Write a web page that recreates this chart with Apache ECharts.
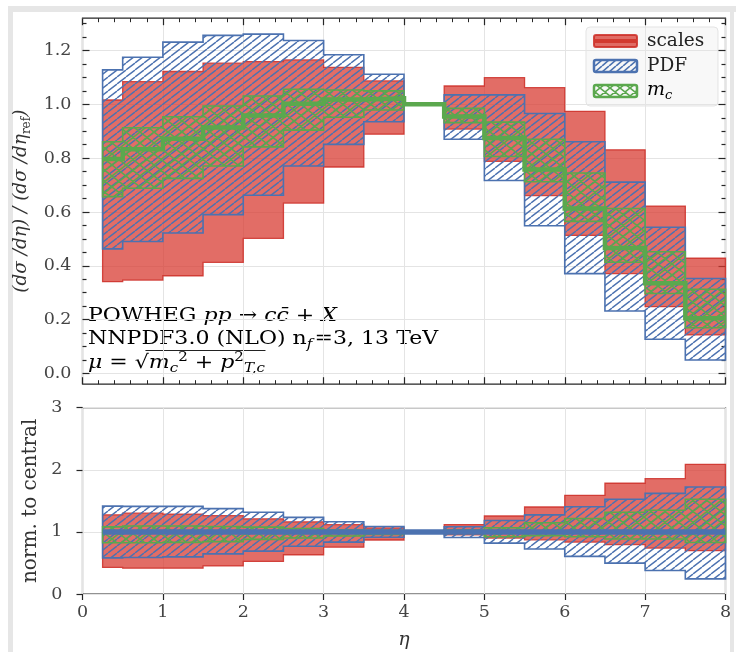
<!DOCTYPE html>
<html>
<head>
<meta charset="utf-8">
<script src="https://cdn.jsdelivr.net/npm/echarts@6/dist/echarts.min.js"></script>
<style>
html,body{margin:0;padding:0;background:#ffffff;}
#chart{width:736px;height:652px;}
</style>
</head>
<body>
<div id="chart"></div>
<script>
// ---------------- data ----------------
const binEdges = [0.25, 0.5, 1.0, 1.5, 2.0, 2.5, 3.0, 3.5, 4.0, 4.5, 5.0, 5.5, 6.0, 6.5, 7.0, 7.5, 8.0];
const centralXsec = [0.797, 0.833, 0.872, 0.914, 0.958, 1.002, 1.018, 1.022, 1.000, 0.955, 0.875, 0.758, 0.613, 0.466, 0.335, 0.205];
const scalesLow  = [0.341, 0.347, 0.363, 0.413, 0.502, 0.633, 0.767, 0.889, 1.000, 0.908, 0.788, 0.661, 0.513, 0.371, 0.248, 0.143];
const scalesHigh = [1.016, 1.084, 1.122, 1.153, 1.159, 1.165, 1.137, 1.087, 1.000, 1.068, 1.099, 1.062, 0.974, 0.831, 0.622, 0.428];
const pdfLow  = [0.463, 0.490, 0.522, 0.590, 0.662, 0.771, 0.851, 0.935, 1.000, 0.870, 0.717, 0.549, 0.371, 0.232, 0.127, 0.050];
const pdfHigh = [1.128, 1.175, 1.231, 1.256, 1.261, 1.237, 1.184, 1.112, 1.000, 1.035, 1.035, 0.966, 0.861, 0.711, 0.543, 0.353];
const mcLow  = [0.657, 0.688, 0.725, 0.771, 0.842, 0.904, 0.952, 0.979, 1.000, 0.932, 0.806, 0.712, 0.565, 0.413, 0.297, 0.170];
const mcHigh = [0.861, 0.913, 0.954, 0.994, 1.031, 1.056, 1.053, 1.050, 1.000, 0.985, 0.934, 0.870, 0.745, 0.613, 0.452, 0.313];
const yTicksTop = [0.0, 0.2, 0.4, 0.6, 0.8, 1.0, 1.2];
const yMinorTop = [0.05, 0.10, 0.15, 0.25, 0.30, 0.35, 0.45, 0.50, 0.55, 0.65, 0.70, 0.75, 0.85, 0.90, 0.95, 1.05, 1.10, 1.15, 1.25, 1.30];
const yTicksBottom = [0, 1, 2, 3];
const legendNames = ['scales', 'PDF', 'm', 'c'];

// ---------------- styles ----------------
const SERIF = 'DejaVu Serif';
const INK = '#262626';
const LABEL = '#444444';
const GRIDC = '#e4e4e4';
const RED_FILL = 'rgba(216,58,48,0.74)';
const RED_EDGE = 'rgba(205,45,38,0.85)';
const BLUE = '#4c72b0';
const GREEN = '#5ba84e';

function makeHatch(color, w, h, lw, cross) {
  const c = document.createElement('canvas');
  c.width = w; c.height = h;
  const g = c.getContext('2d');
  g.strokeStyle = color; g.lineWidth = lw;
  g.beginPath();
  [-w, 0, w].forEach(function (o) {
    g.moveTo(o, h); g.lineTo(o + w, 0);
    if (cross) { g.moveTo(o, 0); g.lineTo(o + w, h); }
  });
  g.stroke();
  return c;
}
const blueHatch = { image: makeHatch(BLUE, 9, 7, 1.4, false), repeat: 'repeat' };
const greenHatch = { image: makeHatch(GREEN, 14, 11, 1.5, true), repeat: 'repeat' };
const blueHatchLeg = { image: makeHatch(BLUE, 7, 6, 1.6, false), repeat: 'repeat' };
const greenHatchLeg = { image: makeHatch(GREEN, 10, 8, 1.6, true), repeat: 'repeat' };

function toRatio(arr) { return arr.map(function (v, i) { return v / centralXsec[i]; }); }
const ones = centralXsec.map(function () { return 1; });

function bandSeries(name, lo, hi, xi, yi, fill, stroke, lw) {
  return {
    type: 'custom', name: name, coordinateSystem: 'cartesian2d',
    xAxisIndex: xi, yAxisIndex: yi, silent: true,
    data: [[binEdges[0], lo[0]]],
    renderItem: function (params, api) {
      const pts = [];
      for (let i = 0; i < hi.length; i++) {
        pts.push(api.coord([binEdges[i], hi[i]]));
        pts.push(api.coord([binEdges[i + 1], hi[i]]));
      }
      for (let i = lo.length - 1; i >= 0; i--) {
        pts.push(api.coord([binEdges[i + 1], lo[i]]));
        pts.push(api.coord([binEdges[i], lo[i]]));
      }
      return { type: 'polygon', shape: { points: pts },
        style: { fill: fill, stroke: stroke, lineWidth: lw, lineJoin: 'miter' } };
    }
  };
}
function stepSeries(name, vals, xi, yi, color, width) {
  const d = vals.map(function (v, i) { return [binEdges[i], v]; });
  d.push([binEdges[binEdges.length - 1], vals[vals.length - 1]]);
  return { type: 'line', name: name, xAxisIndex: xi, yAxisIndex: yi, step: 'end', data: d,
    showSymbol: false, silent: true, lineStyle: { color: color, width: width, cap: 'butt', join: 'miter' } };
}

const tickStyle = { color: INK, width: 1.2 };
const labStyle = { fontFamily: SERIF, fontSize: 17.5, color: LABEL };
const Y_MIN_TOP = -0.04, Y_MAX_TOP = 1.32;
function topX(pos, split) {
  return { type: 'value', gridIndex: 0, position: pos, min: 0, max: 8, interval: 1,
    axisLine: { show: false, onZero: false },
    axisTick: { show: true, inside: true, length: 7, lineStyle: tickStyle },
    minorTick: { show: true, splitNumber: 5, length: 4, lineStyle: { color: INK, width: 1 } },
    axisLabel: { show: false },
    splitLine: { show: split, lineStyle: { color: GRIDC, width: 1 } } };
}
function topY(pos, ticks, len, labels, split) {
  return { type: 'value', gridIndex: 0, position: pos, min: Y_MIN_TOP, max: Y_MAX_TOP,
    axisLine: { show: false, onZero: false },
    axisTick: { show: true, inside: true, length: len, lineStyle: tickStyle, customValues: ticks },
    axisLabel: labels ? Object.assign({ show: true, margin: 11, customValues: ticks,
      formatter: function (v) { return v.toFixed(1); } }, labStyle) : { show: false },
    splitLine: { show: split, lineStyle: { color: GRIDC, width: 1 } } };
}
const yTop = topY('left', yTicksTop, 7, true, true);
yTop.name = '{a|(dσ /dη) / (dσ /dη}{s|ref}{a|)}';
yTop.nameLocation = 'middle';
yTop.nameRotate = 90;
yTop.nameGap = 50;
yTop.nameTextStyle = { rich: {
  a: { fontFamily: SERIF, fontStyle: 'italic', fontSize: 18.5, color: '#333', lineHeight: 22 },
  s: { fontFamily: SERIF, fontSize: 12, color: '#333', verticalAlign: 'bottom', lineHeight: 12 } } };

const rich = {
  r: { fontFamily: SERIF, fontSize: 19, color: '#222', lineHeight: 24 },
  i: { fontFamily: SERIF, fontSize: 19, fontStyle: 'italic', color: '#222', lineHeight: 24 },
  sb: { fontFamily: SERIF, fontSize: 13, color: '#222', verticalAlign: 'bottom', lineHeight: 13 },
  sbi: { fontFamily: SERIF, fontSize: 13, fontStyle: 'italic', color: '#222', verticalAlign: 'bottom', lineHeight: 13 },
  spi: { fontFamily: SERIF, fontSize: 13, color: '#222', verticalAlign: 'top', lineHeight: 13 }
};

const chart = echarts.init(document.getElementById('chart'), null, { renderer: 'canvas' });
chart.setOption({
  animation: false,
  backgroundColor: '#ffffff',
  grid: [
    { left: 82.5, top: 18.2, width: 643, height: 366, show: true, borderColor: INK, borderWidth: 1.2, backgroundColor: 'transparent' },
    { left: 82.5, top: 407.7, width: 643, height: 186.3, show: true, borderColor: INK, borderWidth: 1.2, backgroundColor: 'transparent' }
  ],
  xAxis: [
    topX('bottom', true),
    topX('top', false),
    { type: 'value', gridIndex: 1, position: 'bottom', min: 0, max: 8, interval: 1,
      axisLine: { show: false, onZero: false },
      axisTick: { show: true, inside: false, length: 6, lineStyle: tickStyle },
      axisLabel: Object.assign({ margin: 9 }, labStyle),
      splitLine: { show: true, lineStyle: { color: GRIDC, width: 1 } },
      name: 'η', nameLocation: 'middle', nameGap: 37,
      nameTextStyle: { fontFamily: SERIF, fontStyle: 'italic', fontSize: 19, color: '#333' } }
  ],
  yAxis: [
    yTop,
    topY('left', yMinorTop, 4, false, false),
    topY('right', yTicksTop, 7, false, false),
    topY('right', yMinorTop, 4, false, false),
    { type: 'value', gridIndex: 1, position: 'left', min: 0, max: 3, interval: 1,
      axisLine: { show: false, onZero: false },
      axisTick: { show: true, inside: false, length: 6, lineStyle: tickStyle },
      axisLabel: Object.assign({ margin: 20 }, labStyle),
      splitLine: { show: true, lineStyle: { color: GRIDC, width: 1 } },
      name: 'norm. to central', nameLocation: 'middle', nameRotate: 90, nameGap: 33,
      nameTextStyle: { fontFamily: SERIF, fontSize: 20, color: '#333' } }
  ],
  series: [
    bandSeries('scales', scalesLow, scalesHigh, 0, 0, RED_FILL, RED_EDGE, 1.3),
    bandSeries('PDF', pdfLow, pdfHigh, 0, 0, blueHatch, BLUE, 1.6),
    bandSeries('mc', mcLow, mcHigh, 0, 0, greenHatch, GREEN, 1.6),
    stepSeries('central', centralXsec, 0, 0, GREEN, 4.5),
    bandSeries('scales ratio', toRatio(scalesLow), toRatio(scalesHigh), 2, 4, RED_FILL, RED_EDGE, 1.3),
    bandSeries('PDF ratio', toRatio(pdfLow), toRatio(pdfHigh), 2, 4, blueHatch, BLUE, 1.6),
    bandSeries('mc ratio', toRatio(mcLow), toRatio(mcHigh), 2, 4, greenHatch, GREEN, 1.6),
    stepSeries('central ratio', ones, 2, 4, BLUE, 5.5)
  ],
  graphic: [
    // screenshot frame
    { type: 'rect', shape: { x: 8, y: 6, width: 728, height: 6 }, style: { fill: '#e6e6e6' }, silent: true },
    { type: 'rect', shape: { x: 8, y: 6, width: 5, height: 646 }, style: { fill: '#e6e6e6' }, silent: true },
    { type: 'rect', shape: { x: 730, y: 6, width: 4, height: 646 }, style: { fill: '#e6e6e6' }, silent: true },
    // legend
    { type: 'group', z: 100, children: [
      { type: 'rect', shape: { x: 586, y: 27, width: 132, height: 79, r: 4 },
        style: { fill: 'rgba(247,247,247,0.9)', stroke: 'rgba(225,225,225,0.9)', lineWidth: 1 } },
      { type: 'rect', shape: { x: 594, y: 35, width: 43, height: 12, r: 2 },
        style: { fill: RED_FILL, stroke: RED_EDGE, lineWidth: 2 } },
      { type: 'line', shape: { x1: 594, y1: 41, x2: 637, y2: 41 }, style: { stroke: '#d23a30', lineWidth: 4 } },
      { type: 'rect', shape: { x: 594, y: 60, width: 43, height: 12, r: 2 },
        style: { fill: blueHatchLeg, stroke: BLUE, lineWidth: 2.5 } },
      { type: 'rect', shape: { x: 594, y: 85, width: 43, height: 12, r: 2 },
        style: { fill: greenHatchLeg, stroke: GREEN, lineWidth: 2.5 } },
      { type: 'text', x: 647, y: 41, style: { text: legendNames[0], font: '18.5px "DejaVu Serif"', fill: '#222', verticalAlign: 'middle' } },
      { type: 'text', x: 647, y: 66, style: { text: legendNames[1], font: '18.5px "DejaVu Serif"', fill: '#222', verticalAlign: 'middle' } },
      { type: 'text', x: 647, y: 90, style: { text: '{i|' + legendNames[2] + '}{sbi|' + legendNames[3] + '}', rich: rich, verticalAlign: 'middle' } }
    ] },
    // annotation (horizontally widened like the reference)
    { type: 'group', z: 100, x: 88, y: 0, scaleX: 1.16, children: [
      { type: 'text', x: 0, y: 304, style: { rich: rich,
        text: '{r|POWHEG }{i|pp}{r| → }{i|cc\u0304}{r| + }{i|X}' } },
      { type: 'text', x: 0, y: 327, style: { rich: rich,
        text: '{r|NNPDF3.0 (NLO) n}{sbi|f}{r|\u200a=3, 13 TeV}' } },
      { type: 'text', x: 0, y: 351, style: { rich: rich,
        text: '{i|μ}{r| = √}{i|m}{sbi|c}{spi|2}{r| + }{i|p}{spi|2}{sbi|T,c}' } },
      { type: 'line', shape: { x1: 49.5, y1: 350.5, x2: 153, y2: 350.5 }, style: { stroke: '#222', lineWidth: 1 } }
    ] }
  ]
});
</script>
</body>
</html>
